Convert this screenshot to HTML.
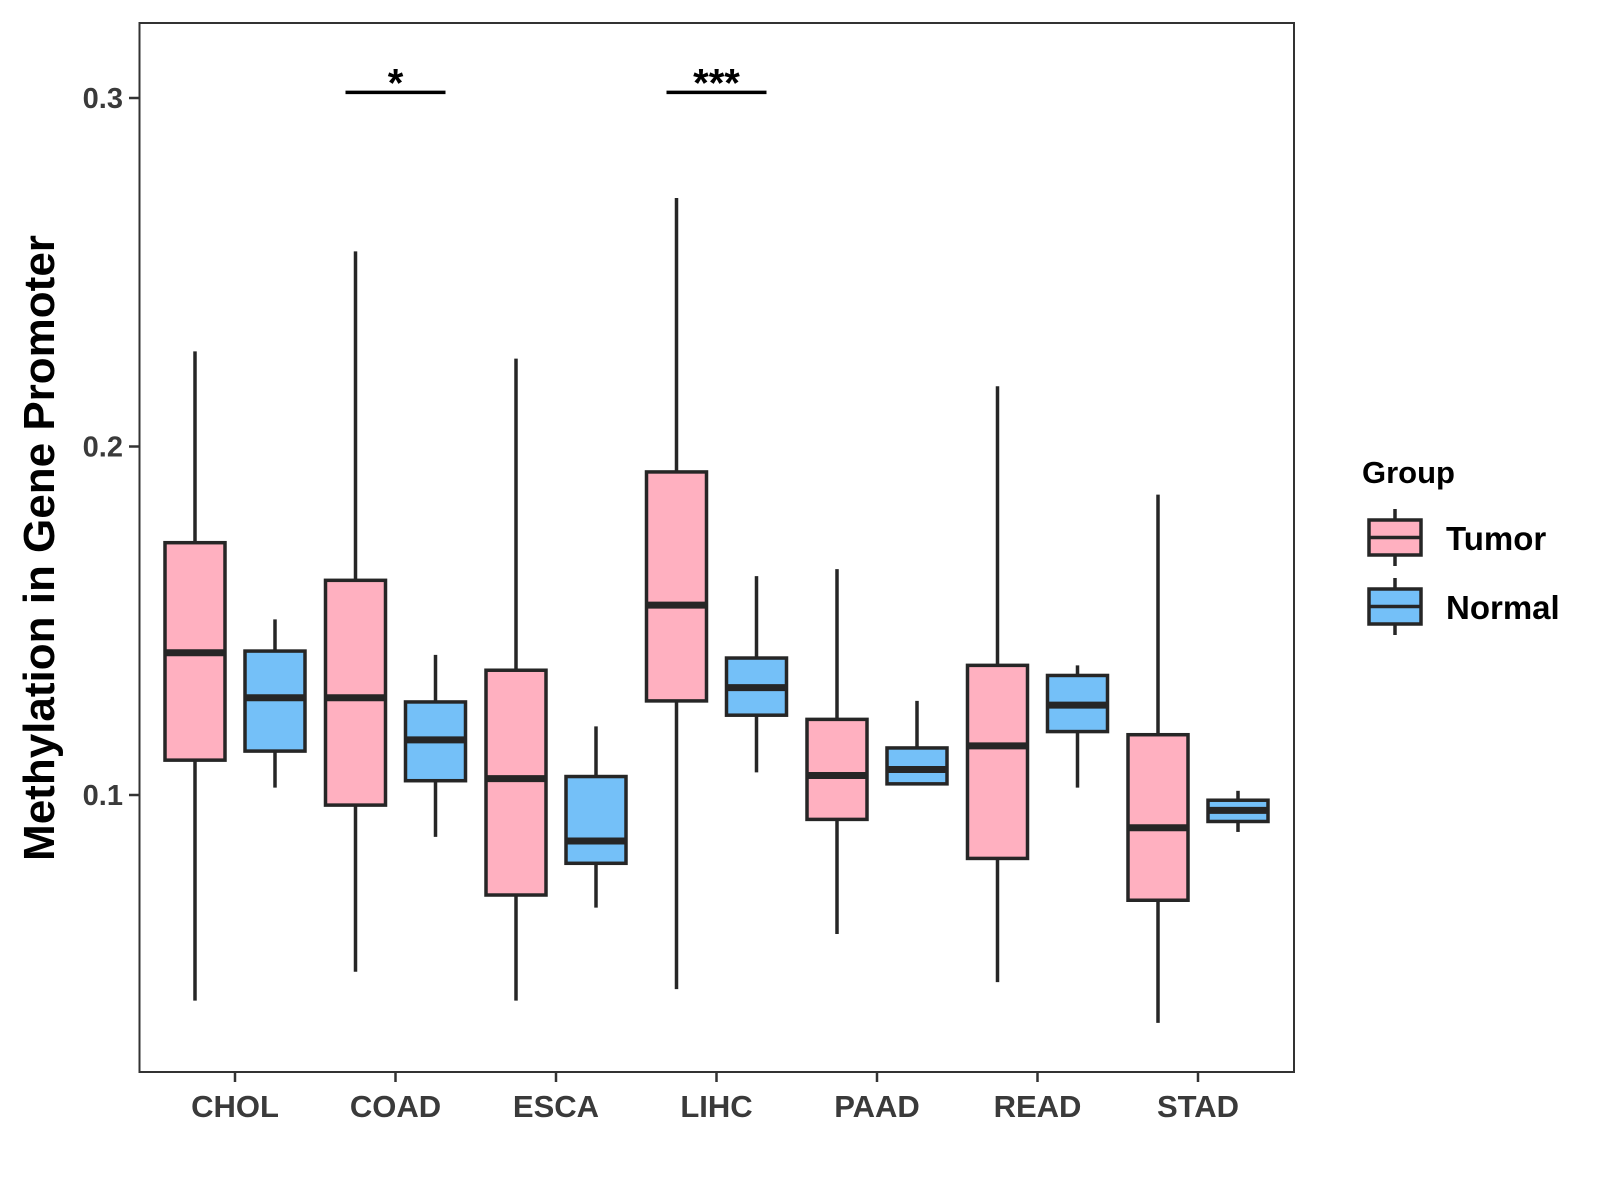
<!DOCTYPE html>
<html><head><meta charset="utf-8"><style>
html,body{margin:0;padding:0;background:#fff;}
svg{display:block;font-family:"Liberation Sans",sans-serif;font-weight:bold;}
</style></head><body>
<svg id="chart" width="1600" height="1200" viewBox="0 0 1600 1200">
<rect x="139.5" y="23" width="1154.5" height="1049" fill="#fff" stroke="#333" stroke-width="2"/>
<g id="marks"></g>
<g id="axes"></g>
<text x="0" y="0" transform="translate(54,548) rotate(-90)" text-anchor="middle" font-size="44" fill="#000">Methylation in Gene Promoter</text>
<g>
<text x="1362" y="483" font-size="31" fill="#000">Group</text>
<g>
<line x1="1395" y1="509" x2="1395" y2="566" stroke="#262626" stroke-width="3.5"/>
<rect x="1369" y="520" width="52" height="35" fill="#FFB0C0" stroke="#262626" stroke-width="3.5"/>
<line x1="1369" y1="537.5" x2="1421" y2="537.5" stroke="#262626" stroke-width="3.5"/>
<text x="1446" y="550" font-size="33" fill="#000">Tumor</text>
</g>
<g>
<line x1="1395" y1="578" x2="1395" y2="635" stroke="#262626" stroke-width="3.5"/>
<rect x="1369" y="589" width="52" height="35" fill="#74C0F8" stroke="#262626" stroke-width="3.5"/>
<line x1="1369" y1="606.5" x2="1421" y2="606.5" stroke="#262626" stroke-width="3.5"/>
<text x="1446" y="619" font-size="33" fill="#000">Normal</text>
</g>
</g>
</svg>
<script>
const categories = ["CHOL","COAD","ESCA","LIHC","PAAD","READ","STAD"];
// [low, q1, median, q3, high]
const tumorStats = [
 [0.041,0.110,0.1408,0.1724,0.2273],
 [0.0493,0.0971,0.1279,0.1616,0.256],
 [0.041,0.0713,0.1047,0.1358,0.2252],
 [0.0443,0.127,0.1545,0.1927,0.2713],
 [0.0601,0.093,0.1056,0.1217,0.1648],
 [0.0463,0.0818,0.1141,0.1372,0.2173],
 [0.0346,0.0698,0.0906,0.1173,0.1862]
];
const normalStats = [
 [0.1021,0.1126,0.1279,0.1413,0.1504],
 [0.088,0.1041,0.1158,0.1267,0.1402],
 [0.0677,0.0804,0.0868,0.1053,0.1197],
 [0.1065,0.1229,0.1308,0.1393,0.1628],
 [0.1032,0.1032,0.1073,0.1135,0.127],
 [0.1021,0.1182,0.1258,0.1343,0.1372],
 [0.0894,0.0924,0.0956,0.0985,0.1012]
];
const yTicks = [0.1,0.2,0.3];
const yTickLabels = ["0.1","0.2","0.3"];
const sigCategories = ["COAD","LIHC"];
const sigLabels = ["*","***"];
const sigLevel = 0.3016;

const NS="http://www.w3.org/2000/svg";
function y(v){return 98+(0.3-v)*3485;}
function x(i){return 235+i*160.5;}
function mk(tag,attrs,parent){const e=document.createElementNS(NS,tag);for(const k in attrs)e.setAttribute(k,attrs[k]);parent.appendChild(e);return e;}
const marks=document.getElementById('marks'), axes=document.getElementById('axes');
const stroke="#262626";
function drawBox(cx,s,fill,name){
  const g=mk('g',{},marks);
  
  
  const w=60;
  mk('line',{x1:cx,x2:cx,y1:y(s[4]),y2:y(s[0]),stroke:stroke,'stroke-width':3.5},g);
  mk('rect',{x:cx-w/2,y:y(s[3]),width:w,height:Math.max(0,y(s[1])-y(s[3])),fill:fill,stroke:stroke,'stroke-width':3.5},g);
  mk('line',{x1:cx-w/2,x2:cx+w/2,y1:y(s[2]),y2:y(s[2]),stroke:stroke,'stroke-width':7},g);
}
categories.forEach((c,i)=>{
  drawBox(x(i)-40,tumorStats[i],"#FFB0C0","box-tumor-"+c.toLowerCase());
  drawBox(x(i)+40,normalStats[i],"#74C0F8","box-normal-"+c.toLowerCase());
  mk('line',{x1:x(i),x2:x(i),y1:1072,y2:1082,stroke:"#333",'stroke-width':2.5},axes);
  const t=mk('text',{x:x(i),y:1117,'text-anchor':'middle','font-size':31,fill:'#3a3a3a'},axes);
  
  
  t.textContent=c;
});
yTicks.forEach((v,i)=>{
  mk('line',{x1:129,x2:139.5,y1:y(v),y2:y(v),stroke:"#333",'stroke-width':2.5},axes);
  const t=mk('text',{x:123,y:y(v)+10,'text-anchor':'end','font-size':29,fill:'#3a3a3a'},axes);
  
  
  t.textContent=yTickLabels[i];
});
sigCategories.forEach((c,j)=>{
  const i=categories.indexOf(c);
  const g=mk('g',{},marks);
  
  
  mk('line',{x1:x(i)-50,x2:x(i)+50,y1:y(sigLevel),y2:y(sigLevel),stroke:"#000",'stroke-width':3.5},g);
  const t=mk('text',{x:x(i),y:y(sigLevel)+4,'text-anchor':'middle','font-size':40,fill:'#000'},g);
  t.textContent=sigLabels[j];
});
</script>
</body></html>
